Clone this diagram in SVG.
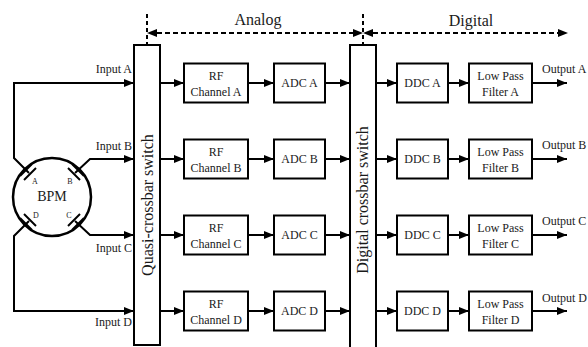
<svg xmlns="http://www.w3.org/2000/svg" width="588" height="347" viewBox="0 0 588 347">
<style>
text{font-family:"Liberation Serif","Times New Roman",serif;fill:#1a1a1a}
.box{fill:#fff;stroke:#000;stroke-width:2}
.ln{fill:none;stroke:#000;stroke-width:2}
.ar{fill:none;stroke:#000;stroke-width:2;marker-end:url(#ah)}
.dash{fill:none;stroke:#000;stroke-width:2;stroke-dasharray:5 3}
.vd{fill:none;stroke:#000;stroke-width:2;stroke-dasharray:4 3}
.t12{font-size:12px;text-anchor:middle}
.lbl{font-size:12px}
.big{font-size:16px;text-anchor:middle}
.sm{font-size:8px;text-anchor:middle}
</style>
<defs>
<marker id="ah" markerUnits="userSpaceOnUse" markerWidth="10" markerHeight="8" refX="10" refY="4" orient="auto">
<path d="M0,0 L10,4 L0,8 z" fill="#000"/>
</marker>
</defs>

<g id="section-labels">
<text class="big" x="258" y="25">Analog</text>
<text class="big" x="471" y="26">Digital</text>
</g>

<g id="bpm">
<circle cx="52" cy="197" r="39" fill="none" stroke="#000" stroke-width="2.5"/>
<text x="52" y="201" style="font-size:14px;text-anchor:middle">BPM</text>
<line class="ln" x1="20" y1="176" x2="32" y2="164"/>
<line class="ln" x1="24" y1="180" x2="36" y2="168"/>
<line class="ln" x1="72" y1="164" x2="84" y2="176"/>
<line class="ln" x1="68" y1="168" x2="80" y2="180"/>
<line class="ln" x1="24" y1="214" x2="36" y2="226"/>
<line class="ln" x1="20" y1="218" x2="32" y2="230"/>
<line class="ln" x1="68" y1="226" x2="80" y2="214"/>
<line class="ln" x1="72" y1="230" x2="84" y2="218"/>
<text class="sm" x="35" y="184">A</text>
<text class="sm" x="70" y="184">B</text>
<text class="sm" x="36" y="218">D</text>
<text class="sm" x="69" y="218">C</text>
</g>

<g id="quasi-switch">
<rect class="box" x="134" y="45" width="26" height="300"/>
<text class="big" transform="translate(153,205) rotate(-90)">Quasi-crossbar switch</text>
</g>

<g id="digital-switch">
<rect class="box" x="350" y="45" width="26" height="310"/>
<text class="big" transform="translate(368,200) rotate(-90)">Digital crossbar switch</text>
</g>

<g id="rf-a"><rect class="box" x="184" y="63.5" width="64" height="39"/><text class="t12" x="216" y="80">RF</text><text class="t12" x="216" y="96">Channel A</text></g>
<g id="rf-b"><rect class="box" x="184" y="139.5" width="64" height="39"/><text class="t12" x="216" y="156">RF</text><text class="t12" x="216" y="172">Channel B</text></g>
<g id="rf-c"><rect class="box" x="184" y="215.5" width="64" height="39"/><text class="t12" x="216" y="232">RF</text><text class="t12" x="216" y="248">Channel C</text></g>
<g id="rf-d"><rect class="box" x="184" y="291.5" width="64" height="39"/><text class="t12" x="216" y="308">RF</text><text class="t12" x="216" y="324">Channel D</text></g>

<g id="adc-a"><rect class="box" x="274" y="63.5" width="51" height="39"/><text class="t12" x="299.5" y="87">ADC A</text></g>
<g id="adc-b"><rect class="box" x="274" y="139.5" width="51" height="39"/><text class="t12" x="299.5" y="163">ADC B</text></g>
<g id="adc-c"><rect class="box" x="274" y="215.5" width="51" height="39"/><text class="t12" x="299.5" y="239">ADC C</text></g>
<g id="adc-d"><rect class="box" x="274" y="291.5" width="51" height="39"/><text class="t12" x="299.5" y="315">ADC D</text></g>

<g id="ddc-a"><rect class="box" x="397" y="63.5" width="51" height="39"/><text class="t12" x="422.5" y="87">DDC A</text></g>
<g id="ddc-b"><rect class="box" x="397" y="139.5" width="51" height="39"/><text class="t12" x="422.5" y="163">DDC B</text></g>
<g id="ddc-c"><rect class="box" x="397" y="215.5" width="51" height="39"/><text class="t12" x="422.5" y="239">DDC C</text></g>
<g id="ddc-d"><rect class="box" x="397" y="291.5" width="51" height="39"/><text class="t12" x="422.5" y="315">DDC D</text></g>

<g id="lpf-a"><rect class="box" x="469" y="63.5" width="63" height="39"/><text class="t12" x="500.5" y="80">Low Pass</text><text class="t12" x="500.5" y="96">Filter A</text></g>
<g id="lpf-b"><rect class="box" x="469" y="139.5" width="63" height="39"/><text class="t12" x="500.5" y="156">Low Pass</text><text class="t12" x="500.5" y="172">Filter B</text></g>
<g id="lpf-c"><rect class="box" x="469" y="215.5" width="63" height="39"/><text class="t12" x="500.5" y="232">Low Pass</text><text class="t12" x="500.5" y="248">Filter C</text></g>
<g id="lpf-d"><rect class="box" x="469" y="291.5" width="63" height="39"/><text class="t12" x="500.5" y="308">Low Pass</text><text class="t12" x="500.5" y="324">Filter D</text></g>

<g id="connectors">
<path class="vd" d="M147,14 V45"/>
<path class="vd" d="M363,14 V45"/>
<path class="dash" d="M157,33 H353"/>
<path d="M147,33 L157,29 L157,37 z"/>
<path d="M363,33 L353,29 L353,37 z"/>
<path class="dash" d="M373,33 H558"/>
<path d="M363,33 L373,29 L373,37 z"/>
<path d="M568,33 L558,29 L558,37 z"/>

<path class="ar" d="M29,173 L14,158 V83 H134"/>
<path class="ar" d="M75,173 L90,159 H134"/>
<path class="ar" d="M75,221 L90,235 H134"/>
<path class="ar" d="M29,221 L14,236 V311 H134"/>

<path class="ar" d="M160,83 H184"/><path class="ar" d="M248,83 H274"/><path class="ar" d="M325,83 H350"/><path class="ar" d="M376,83 H397"/><path class="ar" d="M448,83 H469"/><path class="ar" d="M532,83 H567"/>
<path class="ar" d="M160,159 H184"/><path class="ar" d="M248,159 H274"/><path class="ar" d="M325,159 H350"/><path class="ar" d="M376,159 H397"/><path class="ar" d="M448,159 H469"/><path class="ar" d="M532,159 H567"/>
<path class="ar" d="M160,235 H184"/><path class="ar" d="M248,235 H274"/><path class="ar" d="M325,235 H350"/><path class="ar" d="M376,235 H397"/><path class="ar" d="M448,235 H469"/><path class="ar" d="M532,235 H567"/>
<path class="ar" d="M160,311 H184"/><path class="ar" d="M248,311 H274"/><path class="ar" d="M325,311 H350"/><path class="ar" d="M376,311 H397"/><path class="ar" d="M448,311 H469"/><path class="ar" d="M532,311 H567"/>
</g>

<g id="io-labels">
<text class="lbl" x="132" y="73" text-anchor="end">Input A</text>
<text class="lbl" x="132" y="150" text-anchor="end">Input B</text>
<text class="lbl" x="132" y="252" text-anchor="end">Input C</text>
<text class="lbl" x="132" y="326" text-anchor="end">Input D</text>
<text class="lbl" x="542" y="73">Output A</text>
<text class="lbl" x="542" y="149">Output B</text>
<text class="lbl" x="542" y="225">Output C</text>
<text class="lbl" x="542" y="302">Output D</text>
</g>
</svg>
